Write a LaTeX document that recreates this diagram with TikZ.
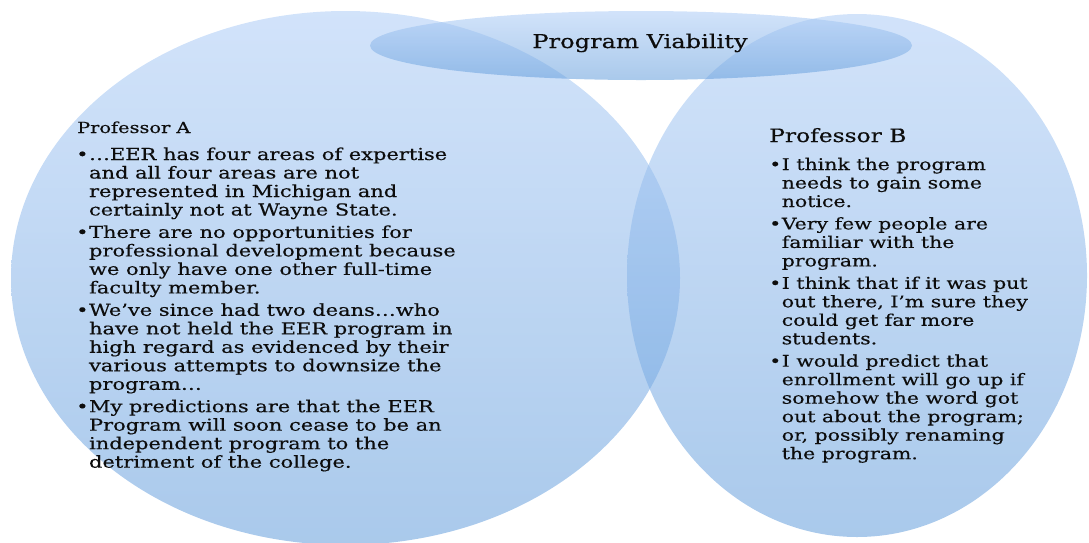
\documentclass[tikz,border=0pt]{standalone}
\usepackage{fontspec}
\setmainfont{DejaVu Serif}[FakeStretch=1.27, FakeBold=0.4]
\usetikzlibrary{shapes.geometric, positioning}
\definecolor{VennLight}{HTML}{ADCCF6}
\definecolor{VennDark}{HTML}{639DDB}
\definecolor{VennText}{HTML}{0D0D0D}
\tikzset{
    venn/.style={
        ellipse,
        draw=none,
        inner sep=0pt,
        top color=VennLight,
        bottom color=VennDark,
        fill opacity=0.55
    },
    viability/.style={
        text=VennText,
        inner sep=0pt,
        font=\fontsize{19}{22}\selectfont
    },
    heading/.style={
        text=VennText,
        inner sep=0pt,
        font=\fontsize{#1}{18.5}\selectfont
    },
    heading/.default=15.2,
    bullets/.style={
        text=VennText,
        inner sep=0pt,
        align=left,
        font=\fontsize{#1}{18.5}\selectfont
    },
    bullets/.default=16.5
}
\newcommand{\bitem}[1]{\begin{tabular}[t]{@{}l@{\hspace{0.5pt}}l@{}}\textbullet & #1\end{tabular}}

\begin{document}
\begin{tikzpicture}[x=1pt, y=-1pt]
    \useasboundingbox (0,0) rectangle (1089,542);
    \clip (0,0) rectangle (1089,542);

    % Circles
    \node[venn, minimum width=669pt, minimum height=534pt] (circA) at (345.5,278) {};
    \node[venn, minimum width=460pt, minimum height=523pt] (circB) at (857,275.5) {};
    \node[venn, minimum width=542pt, minimum height=69pt] (circTop) at (641,45.5) {};
    \node[viability, anchor=base] (title) at (640,48) {Program Viability};

    % Professor A
    \node[heading, anchor=base west] (profA) at (77,133) {Professor A};
    \node[bullets, below=27pt of profA.base west, anchor=base west, xshift=-1pt] (a1) {\bitem{…EER has four areas of expertise\\
        & and all four areas are not\\
        & represented in Michigan and\\
        & certainly not at Wayne State.}};
    \node[bullets, below=3.5pt of a1.south west, anchor=north west] (a2) {\bitem{There are no opportunities for\\
        & professional development because\\
        & we only have one other full-time\\
        & faculty member.}};
    \node[bullets, below=3.5pt of a2.south west, anchor=north west] (a3) {\bitem{We've since had two deans…who\\
        & have not held the EER program in\\
        & high regard as evidenced by their\\
        & various attempts to downsize the\\
        & program…}};
    \node[bullets, below=3.5pt of a3.south west, anchor=north west] (a4) {\bitem{My predictions are that the EER\\
        & Program will soon cease to be an\\
        & independent program to the\\
        & detriment of the college.}};

    % Professor B
    \node[heading=18.4, anchor=base west] (profB) at (769,142) {Professor B};
    \node[bullets=16.1, below=28pt of profB.base west, anchor=base west] (b1) {\bitem{I think the program\\
        & needs to gain some\\
        & notice.}};
    \node[bullets=16.1, below=3.5pt of b1.south west, anchor=north west] (b2) {\bitem{Very few people are\\
        & familiar with the\\
        & program.}};
    \node[bullets=16.1, below=3.5pt of b2.south west, anchor=north west] (b3) {\bitem{I think that if it was put\\
        & out there, I'm sure they\\
        & could get far more\\
        & students.}};
    \node[bullets=16.1, below=3.5pt of b3.south west, anchor=north west] (b4) {\bitem{I would predict that\\
        & enrollment will go up if\\
        & somehow the word got\\
        & out about the program;\\
        & or, possibly renaming\\
        & the program.}};
\end{tikzpicture}
\end{document}
